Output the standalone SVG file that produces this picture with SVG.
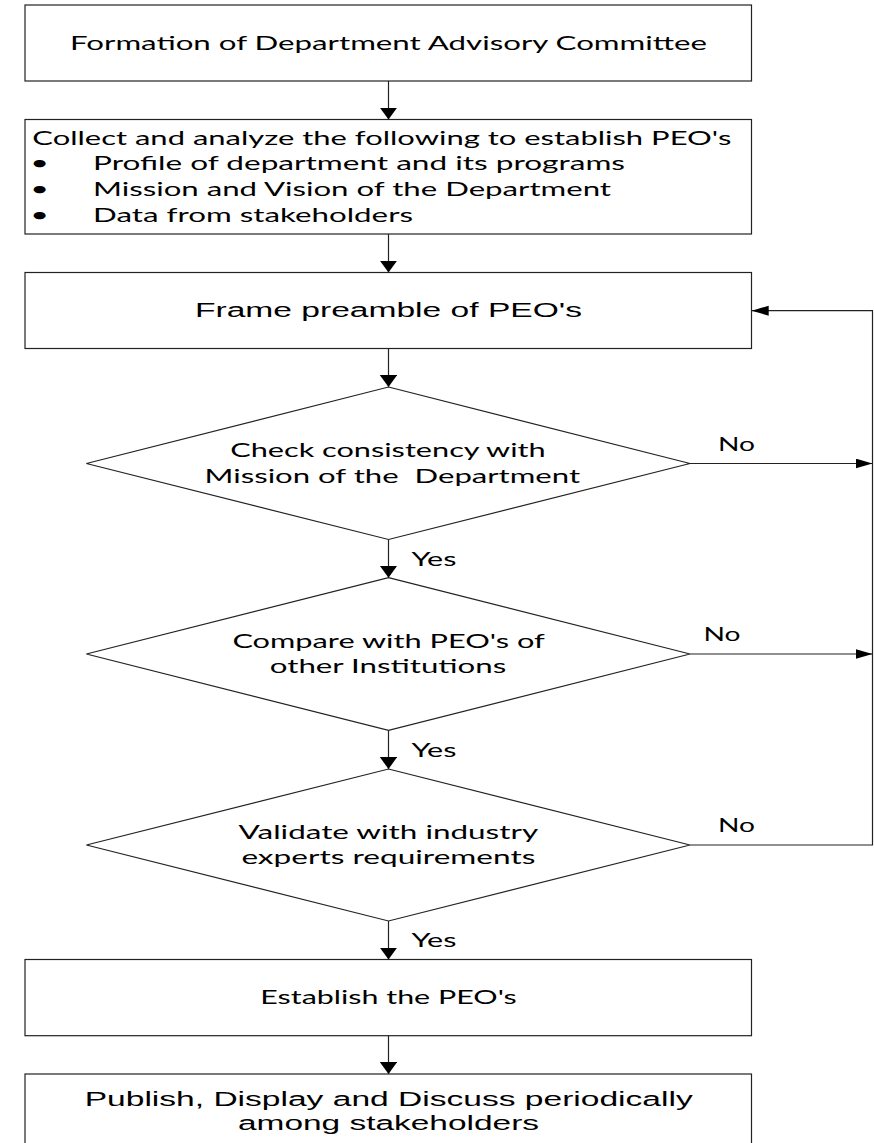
<svg xmlns="http://www.w3.org/2000/svg" width="874" height="1143" viewBox="0 0 874 1143">
<style>
.box{fill:#fff;stroke:#222;stroke-width:1.2}
.ln{fill:none;stroke:#222;stroke-width:1.2}
.c{font-family:Lato,"Open Sans","DejaVu Sans",sans-serif;font-size:19px;fill:#000;white-space:pre}
.a{font-family:"Liberation Sans",Arial,sans-serif;font-size:20px;fill:#000;white-space:pre}
</style>
<defs>
<marker id="arrV" markerUnits="userSpaceOnUse" markerWidth="13" markerHeight="18" refX="12" refY="8.75" orient="auto">
<path d="M0,0 L12,8.75 L0,17.5 z" fill="#000"/>
</marker>
<marker id="arrH" markerUnits="userSpaceOnUse" markerWidth="18" markerHeight="11" refX="17" refY="5" orient="auto">
<path d="M0,0 L17,5 L0,10 z" fill="#000"/>
</marker>
</defs>
<rect width="874" height="1143" fill="#fff"/>
<g id="connectors">
<line class="ln" x1="388.5" y1="81" x2="388.5" y2="119.5" marker-end="url(#arrV)"/>
<line class="ln" x1="388.5" y1="234" x2="388.5" y2="272.5" marker-end="url(#arrV)"/>
<line class="ln" x1="388.5" y1="348.5" x2="388.5" y2="387" marker-end="url(#arrV)"/>
<line class="ln" x1="388.5" y1="539.5" x2="388.5" y2="577.7" marker-end="url(#arrV)"/>
<line class="ln" x1="388.5" y1="730.3" x2="388.5" y2="769" marker-end="url(#arrV)"/>
<line class="ln" x1="388.5" y1="921" x2="388.5" y2="959.5" marker-end="url(#arrV)"/>
<line class="ln" x1="388.5" y1="1035.7" x2="388.5" y2="1074" marker-end="url(#arrV)"/>
<line class="ln" x1="690" y1="463.5" x2="872.5" y2="463.5" marker-end="url(#arrH)"/>
<line class="ln" x1="690" y1="654" x2="872.5" y2="654" marker-end="url(#arrH)"/>
<polyline class="ln" points="690,845 872.5,845 872.5,310.7 751.7,310.7" marker-end="url(#arrH)"/>
<text class="c" x="718" y="451" textLength="37" lengthAdjust="spacingAndGlyphs">No</text>
<text class="c" x="703.5" y="641" textLength="37" lengthAdjust="spacingAndGlyphs">No</text>
<text class="c" x="718" y="831.7" textLength="37" lengthAdjust="spacingAndGlyphs">No</text>
<text class="c" x="411.4" y="565.7" textLength="45" lengthAdjust="spacingAndGlyphs">Yes</text>
<text class="c" x="411.4" y="756.7" textLength="45" lengthAdjust="spacingAndGlyphs">Yes</text>
<text class="c" x="411.4" y="947.3" textLength="45" lengthAdjust="spacingAndGlyphs">Yes</text>
</g>
<g id="n1">
<rect class="box" x="25" y="5" width="726.5" height="76"/>
<text class="c" x="70" y="50" textLength="637" lengthAdjust="spacingAndGlyphs">Formation of Department Advisory Committee</text>
</g>
<g id="n2">
<rect class="box" x="25" y="119.5" width="726.5" height="114.5"/>
<text class="c" x="32.3" y="145" textLength="699" lengthAdjust="spacingAndGlyphs">Collect and analyze the following to establish PEO's</text>
<text class="c" x="0" y="0" text-anchor="middle" transform="translate(39.6,170) scale(1.7,1)">•</text>
<text class="c" x="93" y="170" textLength="532" lengthAdjust="spacingAndGlyphs">Profile of department and its programs</text>
<text class="c" x="0" y="0" text-anchor="middle" transform="translate(39.6,195.7) scale(1.7,1)">•</text>
<text class="c" x="93" y="195.7" textLength="518" lengthAdjust="spacingAndGlyphs">Mission and Vision of the Department</text>
<text class="c" x="0" y="0" text-anchor="middle" transform="translate(39.6,221.7) scale(1.7,1)">•</text>
<text class="c" x="93" y="221.7" textLength="320" lengthAdjust="spacingAndGlyphs">Data from stakeholders</text>
</g>
<g id="n3">
<rect class="box" x="25" y="272.5" width="726.5" height="76"/>
<text class="a" x="195" y="316.7" textLength="387" lengthAdjust="spacingAndGlyphs">Frame preamble of PEO's</text>
</g>
<g id="d1">
<polygon class="box" points="388.5,387 690,463.5 388.5,539.5 86.4,463.5"/>
<text class="c" x="230.2" y="457.3" textLength="315.5" lengthAdjust="spacingAndGlyphs">Check consistency with</text>
<text class="c" x="204.6" y="482.7" textLength="375.5" lengthAdjust="spacingAndGlyphs">Mission of the  Department</text>
</g>
<g id="d2">
<polygon class="box" points="388.5,577.7 690,654 388.5,730.3 86.4,654"/>
<text class="c" x="232.4" y="648.3" textLength="312.5" lengthAdjust="spacingAndGlyphs">Compare with PEO's of</text>
<text class="c" x="269.8" y="672.7" textLength="236.5" lengthAdjust="spacingAndGlyphs">other Institutions</text>
</g>
<g id="d3">
<polygon class="box" points="388.5,769 690,845 388.5,921 86.4,845"/>
<text class="c" x="238.6" y="839.3" textLength="299.5" lengthAdjust="spacingAndGlyphs">Validate with industry</text>
<text class="c" x="241.4" y="864" textLength="294" lengthAdjust="spacingAndGlyphs">experts requirements</text>
</g>
<g id="n4">
<rect class="box" x="25" y="959.5" width="726.5" height="76.2"/>
<text class="c" x="260.3" y="1004.3" textLength="256.5" lengthAdjust="spacingAndGlyphs">Establish the PEO's</text>
</g>
<g id="n5">
<rect class="box" x="25" y="1074" width="726.5" height="80"/>
<text class="a" x="84.7" y="1106" textLength="608" lengthAdjust="spacingAndGlyphs">Publish, Display and Discuss periodically</text>
<text class="a" x="238" y="1130" textLength="301" lengthAdjust="spacingAndGlyphs">among stakeholders</text>
</g>
</svg>
